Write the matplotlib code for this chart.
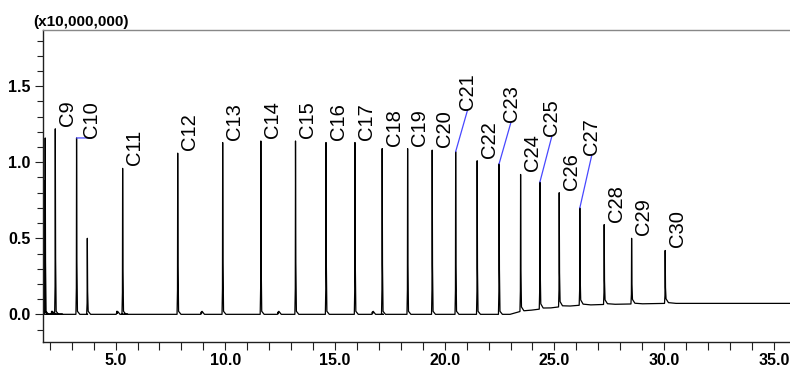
import numpy as np
import matplotlib
matplotlib.use('Agg')
import matplotlib.pyplot as plt
import matplotlib.ticker as ticker

# n-alkane peaks (retention time in min, apex height in x10,000,000)
alkane_labels = ['C9', 'C10', 'C11', 'C12', 'C13', 'C14', 'C15', 'C16', 'C17', 'C18', 'C19',
                 'C20', 'C21', 'C22', 'C23', 'C24', 'C25', 'C26', 'C27', 'C28', 'C29', 'C30']
alkane_rt = [2.25, 3.22, 5.32, 7.83, 9.88, 11.62, 13.20, 14.59, 15.91, 17.15, 18.31,
             19.43, 20.50, 21.48, 22.48, 23.46, 24.34, 25.22, 26.16, 27.27, 28.52, 30.05]
alkane_height = [1.22, 1.16, 0.96, 1.06, 1.13, 1.14, 1.14, 1.13, 1.13, 1.09, 1.09,
                 1.08, 1.07, 1.01, 0.99, 0.92, 0.87, 0.80, 0.70, 0.59, 0.50, 0.42]
alkane_tail = [0.0, 0.0, 0.0, 0.0, 0.0, 0.0, 0.0, 0.0, 0.0, 0.0, 0.0,
               0.0, 0.0, 0.0, 0.0, 0.01, 0.015, 0.015, 0.015, 0.01, 0.01, 0.01]

# other peaks (solvent, impurities)
other_rt = [1.74, 1.79, 2.08, 3.71, 5.05, 8.90, 12.40, 16.70]
other_height = [0.88, 1.16, 0.02, 0.50, 0.02, 0.015, 0.015, 0.015]

# baseline drift
base_t = [1.69, 23.0, 23.5, 24.4, 25.3, 26.2, 27.3, 30.1, 36.0]
base_v = [0.0, 0.0, 0.02, 0.035, 0.05, 0.06, 0.065, 0.072, 0.072]

# labels that use a leader line (offset in pixels)
leader = {'C10': (15, 0), 'C21': (12, 42), 'C23': (12, 42), 'C25': (12, 46), 'C27': (12, 53)}


def base(t):
    return float(np.interp(t, base_t, base_v))


# build chromatogram trace from the peak table
peaks = sorted([(t, h, tl) for t, h, tl in zip(alkane_rt, alkane_height, alkane_tail)] +
               [(t, h, 0.0) for t, h in zip(other_rt, other_height)])
xs, ys = [base_t[0]], [base_v[0] + 0.05]
for t, h, tl in peaks:
    b = base(t)
    xs += [t - 0.03, t - 0.01, t, t + 0.015, t + 0.04, t + 0.15, t + 0.5]
    ys += [b, b + 0.15 * (h - b), h, b + 0.3 * (h - b), b + 0.02 + tl, b + tl * 0.5, base(t + 0.5)]
xs.append(base_t[-1])
ys.append(base_v[-1])

fig = plt.figure(figsize=(7.9, 3.72), dpi=100)
ax = fig.add_axes([43 / 790, 1 - 341.7 / 372, 1 - 43 / 790, (341.7 - 30) / 372])
ax.plot(xs, ys, color='black', linewidth=0.9)

ax.set_xlim(1.69, 35.74)
ax.set_ylim(-0.18, 1.87)

# peak labels
for lab, t, h in zip(alkane_labels, alkane_rt, alkane_height):
    if lab in leader:
        dx, dy = leader[lab]
        ax.annotate(lab, xy=(t, h), xytext=(dx, dy), textcoords='offset pixels',
                    rotation=90, ha='center', va='bottom', fontsize=14.5,
                    family='Liberation Sans',
                    arrowprops=dict(arrowstyle='-', color='#4848ff', lw=0.9,
                                    shrinkA=0, shrinkB=0, relpos=(0.5, 0),
                                    patchA=None))
    else:
        ax.annotate(lab, xy=(t, h), xytext=(12, 3), textcoords='offset pixels',
                    rotation=90, ha='center', va='bottom', fontsize=14.5,
                    family='Liberation Sans')

# axes styling
ax.spines['right'].set_visible(False)
ax.spines['top'].set_color('#888888')
ax.spines['left'].set_color('#202020')
ax.spines['bottom'].set_color('#202020')
for s in ['top', 'left', 'bottom']:
    ax.spines[s].set_linewidth(1.0)

ax.xaxis.set_major_locator(ticker.MultipleLocator(5))
ax.xaxis.set_minor_locator(ticker.MultipleLocator(1))
ax.yaxis.set_major_locator(ticker.MultipleLocator(0.5))
ax.yaxis.set_minor_locator(ticker.MultipleLocator(0.1))
ax.xaxis.set_major_formatter(ticker.FormatStrFormatter('%.1f'))
ax.yaxis.set_major_formatter(ticker.FormatStrFormatter('%.1f'))
ax.tick_params(axis='x', which='both', direction='out', length=6, width=0.8,
               color='#202020', pad=2)
ax.tick_params(axis='y', which='major', direction='out', length=6, width=0.8,
               color='#202020', pad=3)
ax.tick_params(axis='y', which='minor', direction='out', length=4, width=0.8,
               color='#202020')
for lbl in ax.get_xticklabels() + ax.get_yticklabels():
    lbl.set_fontfamily('Liberation Sans')
    lbl.set_fontweight('bold')
    lbl.set_fontsize(11.5)

fig.text(33 / 790, 1 - 29 / 372, '(x10,000,000)', ha='left', va='bottom',
         fontsize=11, fontweight='bold', family='Liberation Sans')

fig.savefig('out.png', dpi=100)
